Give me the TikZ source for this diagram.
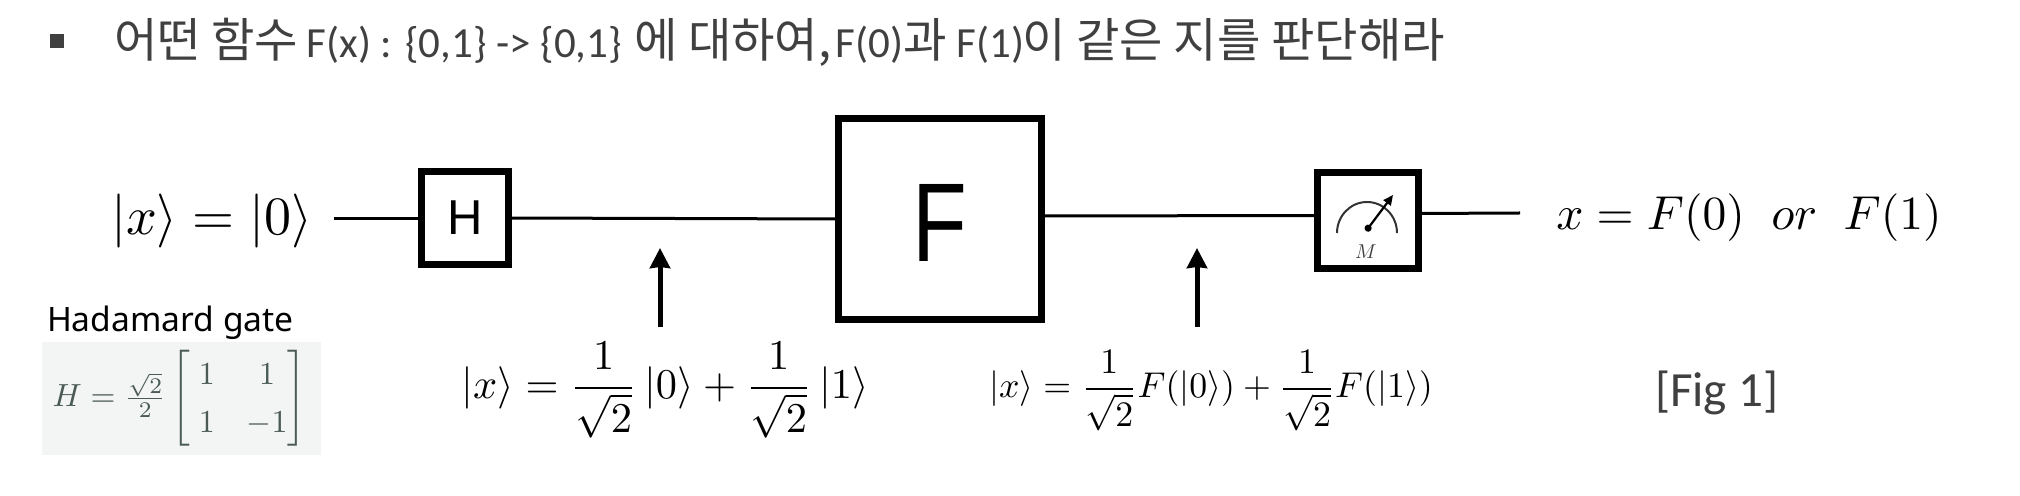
\documentclass[tikz,border=0pt]{standalone}
\usepackage{amsmath}
\usepackage[no-math]{fontspec}
\newfontfamily\krfont{Noto Sans CJK KR}
\newfontfamily\calfont{Carlito}
\newfontfamily\gatefont{Liberation Sans}
\newfontfamily\nsfont{Noto Sans}
\usetikzlibrary{arrows.meta}
\definecolor{hdr}{HTML}{404040}
\definecolor{hbg}{HTML}{F3F5F4}
\definecolor{hfg}{HTML}{4A5A55}
\newcommand{\kr}[1]{{\krfont\fontsize{23.6pt}{26pt}\selectfont #1}}
\newcommand{\la}[1]{{\calfont\fontsize{21.5pt}{26pt}\selectfont #1}}
\newcommand{\ke}[1]{|#1\rangle}
\tikzset{
  gatebox/.style={draw=black,line width=3.3pt,fill=white,inner sep=0pt,outer sep=0pt},
  wire/.style={draw=black,line width=1.5pt},
  pointer/.style={draw=black,line width=2.5pt,-{Stealth[length=10pt,width=10pt,inset=0.5pt]}},
  txt/.style={inner sep=0pt,outer sep=0pt,anchor=base west},
  formula/.style={inner sep=0pt,outer sep=0pt,text=black}
}
\begin{document}
\begin{tikzpicture}[x=0.5pt,y=-0.5pt]
\useasboundingbox (0,0) rectangle (2020,496);
\fill[white] (0,0) rectangle (2020,496);
% header
\node[fill=hdr,minimum size=7pt,inner sep=0pt] (bullet) at (57,41) {};
\node[txt,text=hdr] (title) at (114,58) {\kr{어떤 함수}\hspace{4.2pt}\la{F(x) : \{0,1\} -> \{0,1\}}\hspace{6pt}\kr{에 대하여,}\hspace{2.2pt}\la{F(0)}\kr{과}\hspace{5pt}\la{F(1)}\hspace{-1pt}\kr{이 같은 지를 판단해라}};
% circuit
\node[gatebox,minimum width=43.7pt,minimum height=46.7pt] (H) at (465,218) {\gatefont\fontsize{24.5pt}{28pt}\selectfont H};
\node[gatebox,minimum width=101.7pt,minimum height=100.7pt] (F) at (940,219) {};
\node[formula,xscale=0.8] (Fl) at (940,223) {\gatefont\fontsize{56pt}{60pt}\selectfont F};
\node[gatebox,minimum width=50.7pt,minimum height=48.2pt] (M) at (1368,220.5) {};
\node[formula,scale=2.7] (ketin) at (212,221) {$\ke{x}=\ke{0}$};
\coordinate (wstart) at (334,219);
\coordinate (wend) at (1520,213);
\draw[wire] (wstart) -- (H.west|-wstart);
\draw[wire] (H.east) -- (F.west);
\draw[wire] ([yshift=1.5pt]F.east) -- ([yshift=2.5pt]M.west);
\draw[wire] ([yshift=3.5pt]M.east) -- (wend);
\node[formula,scale=2.38] (out) at (1749,218) {$x=F(0)\;\;or\;\;F(1)$};
% meter
\coordinate (mpiv) at (1366,231);
\coordinate (mtip) at (1393,195);
\draw[line width=1pt,draw=black!80] (1337,233) arc[start angle=180,end angle=360,x radius=30,y radius=31];
\draw[line width=1.1pt,{Circle[length=3.5pt]}-{Stealth[length=5pt,width=4.5pt,inset=0pt]}] (mpiv) -- (mtip);
\node[formula,scale=1,text=black!75] (mlabel) at (1366,252) {$M$};
% pointers
\coordinate (p1a) at (660,327);
\coordinate (p1b) at (660,248);
\coordinate (p2a) at (1197,327);
\coordinate (p2b) at (1197,248);
\draw[pointer] (p1a) -- (p1b);
\draw[pointer] (p2a) -- (p2b);
% Hadamard
\node[txt,text=black] (hlabel) at (47,332) {\nsfont\fontsize{16.8pt}{18pt}\selectfont Hadamard gate};
\node[fill=hbg,inner sep=0pt,minimum width=139.5pt,minimum height=56.5pt] (hpanel) at (181.5,398.5) {};
\node[formula,text=hfg,scale=1.6] (hmat) at (179.5,398.5) {\renewcommand{\arraystretch}{1.25}$H=\frac{\sqrt{2}}{2}\begin{bmatrix}\;1&1\\\;1&-1\end{bmatrix}$};
% equations
\node[formula,scale=2.12] (eq1) at (665,390) {$\ke{x}=\dfrac{1}{\sqrt{2}}\,\ke{0}+\dfrac{1}{\sqrt{2}}\,\ke{1}$};
\node[formula,scale=1.79] (eq2) at (1211,391) {$\ke{x}=\dfrac{1}{\sqrt{2}}F(\ke{0})+\dfrac{1}{\sqrt{2}}F(\ke{1})$};
\node[txt,text=hdr] (fig) at (1655,407) {\calfont\fontsize{24.6pt}{28pt}\selectfont [Fig 1]};
\end{tikzpicture}
\end{document}
